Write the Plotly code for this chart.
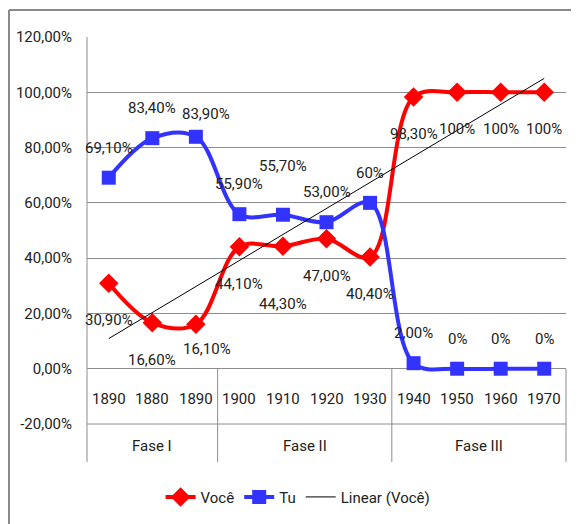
import numpy as np
import plotly.graph_objects as go

# ---- data ----
years = ["1890", "1880", "1890", "1900", "1910", "1920", "1930", "1940", "1950", "1960", "1970"]
phases = ["Fase I", "Fase II", "Fase III"]
phase_sizes = [3, 4, 4]
voce = [0.309, 0.166, 0.161, 0.441, 0.443, 0.470, 0.404, 0.983, 1.00, 1.00, 1.00]
tu = [0.691, 0.834, 0.839, 0.559, 0.557, 0.530, 0.600, 0.020, 0.0, 0.0, 0.0]
voce_labels = ["30,90%", "16,60%", "16,10%", "44,10%", "44,30%", "47,00%", "40,40%", "98,30%", "100%", "100%", "100%"]
tu_labels = ["69,10%", "83,40%", "83,90%", "55,90%", "55,70%", "53,00%", "60%", "2,00%", "0%", "0%", "0%"]
y_tickvals = [-0.2, 0.0, 0.2, 0.4, 0.6, 0.8, 1.0, 1.2]
y_ticktext = ["-20,00%", "0,00%", "20,00%", "40,00%", "60,00%", "80,00%", "100,00%", "120,00%"]

FONT = "Roboto, Liberation Sans, sans-serif"
FS = 15
TXT = "#222222"
GRID = "#8c8c8c"
RED = "#ff0000"
BLUE = "#3333ff"

x = list(range(len(years)))
n = len(years)

# linear trendline (least squares) for Você
slope, intercept = np.polyfit(np.arange(1, n + 1), voce, 1)
trend = [intercept + slope * (i + 1) for i in x]

fig = go.Figure()
fig.add_trace(go.Scatter(
    x=x, y=voce, name="Você", mode="lines+markers",
    line=dict(color=RED, width=4, shape="spline", smoothing=1),
    marker=dict(symbol="diamond", size=15, color=RED),
))
fig.add_trace(go.Scatter(
    x=x, y=tu, name="Tu", mode="lines+markers",
    line=dict(color=BLUE, width=4, shape="spline", smoothing=1),
    marker=dict(symbol="square", size=14, color=BLUE),
))
fig.add_trace(go.Scatter(
    x=x, y=trend, name="Linear (Você)", mode="lines",
    line=dict(color="#000000", width=1),
))

# data label offsets (px) - default per series, with a few tweaks
voce_shift = {i: (0, -37) for i in x}
voce_shift.update({2: (11, -25), 4: (0, -58)})
tu_shift = {i: (0, 30) for i in x}
tu_shift.update({2: (10, 23), 4: (0, 49)})

annotations = []
for i in x:
    dx, dy = voce_shift[i]
    annotations.append(dict(x=i, y=voce[i], xref="x", yref="y", text=voce_labels[i],
                            showarrow=False, xshift=dx, yshift=dy,
                            font=dict(family=FONT, size=FS, color=TXT)))
    dx, dy = tu_shift[i]
    annotations.append(dict(x=i, y=tu[i], xref="x", yref="y", text=tu_labels[i],
                            showarrow=False, xshift=dx, yshift=dy,
                            font=dict(family=FONT, size=FS, color=TXT)))

# year labels (category row)
for i in x:
    annotations.append(dict(x=i, y=-0.1, xref="x", yref="y", text=years[i], showarrow=False,
                            yshift=-3, font=dict(family=FONT, size=FS, color=TXT)))

# phase labels and separators
shapes = []
start = 0
PLOT_H = 387.0
PLOT_W = 479.0
row_bottom = -(462 - 424) / PLOT_H
for ph, size in zip(phases, phase_sizes):
    center = start + (size - 1) / 2
    annotations.append(dict(x=center, y=row_bottom / 2, xref="x", yref="paper", text=ph,
                            showarrow=False, yanchor="middle", yshift=-3,
                            font=dict(family=FONT, size=FS, color=TXT)))
    end = start + size
    xp = end / n
    shapes.append(dict(type="line", xref="paper", yref="paper", x0=xp, x1=xp,
                       y0=row_bottom, y1=0.2 / 1.4, line=dict(color=GRID, width=1)))
    start = end

# left axis line extended through category rows
shapes.append(dict(type="line", xref="paper", yref="paper", x0=0, x1=0, y0=row_bottom, y1=1,
                   line=dict(color=GRID, width=1)))
# bottom line of year row (-20%)
shapes.append(dict(type="line", xref="paper", yref="paper", x0=0, x1=1, y0=0, y1=0,
                   line=dict(color=GRID, width=1)))

# outer chart border (top and left only); figure is offset 8px by page body margin
bx0 = (1 - 79) / PLOT_W
bx1 = (571 - 79) / PLOT_W
by_top = 1 + (29 - 2) / PLOT_H
by_bot = -(516 - 416) / PLOT_H
shapes.append(dict(type="line", xref="paper", yref="paper", x0=bx0, x1=bx1, y0=by_top, y1=by_top,
                   line=dict(color="#8a8a8a", width=2)))
shapes.append(dict(type="line", xref="paper", yref="paper", x0=bx0, x1=bx0, y0=by_top, y1=by_bot,
                   line=dict(color="#8a8a8a", width=2)))

fig.update_layout(
    width=571, height=516,
    margin=dict(l=79, r=13, t=29, b=100, autoexpand=False),
    paper_bgcolor="white", plot_bgcolor="white",
    font=dict(family=FONT, size=FS, color=TXT),
    showlegend=True,
    legend=dict(orientation="h", xref="container", yref="container",
                x=0.508, y=0.052, xanchor="center", yanchor="middle",
                font=dict(family=FONT, size=FS, color=TXT),
                itemwidth=30, tracegroupgap=0),
    annotations=annotations,
    shapes=shapes,
)
fig.update_xaxes(range=[-0.5, n - 0.5], showgrid=False, zeroline=False,
                 showticklabels=False, showline=False, ticks="", automargin=False)
fig.update_yaxes(range=[-0.2, 1.2], tickvals=y_tickvals, ticktext=y_ticktext,
                 showgrid=True, gridcolor=GRID, gridwidth=1,
                 zeroline=True, zerolinecolor=GRID, zerolinewidth=1,
                 showline=False, ticks="", ticklen=0, automargin=False,
                 ticklabelstandoff=14,
                 tickfont=dict(family=FONT, size=FS, color=TXT))

fig.write_html("out.html")
